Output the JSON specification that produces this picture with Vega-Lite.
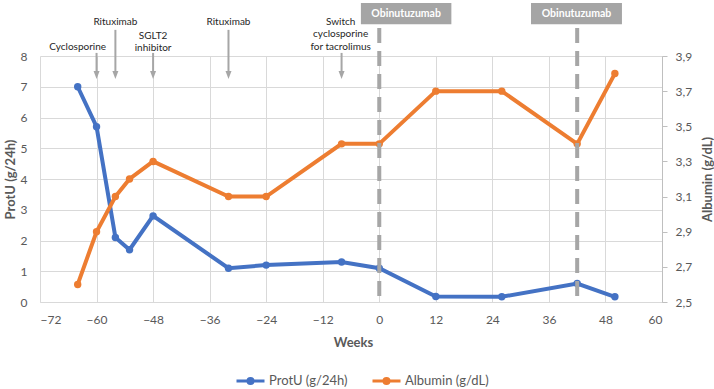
{
  "$schema": "https://vega.github.io/schema/vega-lite/v6.json",
  "width": 622,
  "height": 246,
  "autosize": {"type": "none"},
  "padding": {"left": 40, "top": 56, "right": 52, "bottom": 87},
  "background": "white",
  "config": {
    "view": {"stroke": null},
    "font": "Lato",
    "axis": {"labelColor": "#595959", "titleColor": "#595959", "labelFontSize": 12, "titleFontSize": 13, "titleFontWeight": "bold", "gridColor": "#D9D9D9", "gridWidth": 1}
  },
  "datasets": {
    "main": [
      {"week": -64, "protu": 7.0, "albumin": 2.6},
      {"week": -60, "protu": 5.7, "albumin": 2.9},
      {"week": -56, "protu": 2.1, "albumin": 3.1},
      {"week": -53, "protu": 1.7, "albumin": 3.2},
      {"week": -48, "protu": 2.8, "albumin": 3.3},
      {"week": -32, "protu": 1.1, "albumin": 3.1},
      {"week": -24, "protu": 1.2, "albumin": 3.1},
      {"week": -8, "protu": 1.3, "albumin": 3.4},
      {"week": 0, "protu": 1.1, "albumin": 3.4},
      {"week": 12, "protu": 0.18, "albumin": 3.7},
      {"week": 26, "protu": 0.17, "albumin": 3.7},
      {"week": 42, "protu": 0.6, "albumin": 3.4},
      {"week": 50, "protu": 0.17, "albumin": 3.8}
    ],
    "arrows": [
      {"week": -60, "top": 8.1},
      {"week": -56, "top": 8.85},
      {"week": -48, "top": 8.1},
      {"week": -32, "top": 8.85},
      {"week": -8, "top": 8.1}
    ],
    "labels": [
      {"week": -64, "y": 8.3, "text": "Cyclosporine"},
      {"week": -56, "y": 9.1, "text": "Rituximab"},
      {"week": -48, "y": 8.66, "text": "SGLT2"},
      {"week": -48, "y": 8.27, "text": "inhibitor"},
      {"week": -32, "y": 9.1, "text": "Rituximab"},
      {"week": -8.2, "y": 9.1, "text": "Switch"},
      {"week": -8.2, "y": 8.7, "text": "cyclosporine"},
      {"week": -8.2, "y": 8.29, "text": "for tacrolimus"}
    ],
    "obi": [
      {"x1": -3.9, "x2": 15.3, "y1": 9.03, "y2": 9.72, "xc": 5.7, "yc": 9.38, "text": "Obinutuzumab"},
      {"x1": 32.2, "x2": 51.5, "y1": 9.03, "y2": 9.72, "xc": 41.85, "yc": 9.38, "text": "Obinutuzumab"}
    ],
    "dashes": [
      {"week": 0, "top": 8.91},
      {"week": 42, "top": 8.91}
    ]
  },
  "layer": [
    {
      "data": {"name": "main"},
      "mark": {"type": "line", "strokeWidth": 4, "point": {"filled": true, "size": 55}},
      "encoding": {
        "x": {"field": "week", "type": "quantitative", "scale": {"domain": [-72, 60], "nice": false},
          "axis": {"values": [-72, -60, -48, -36, -24, -12, 0, 12, 24, 36, 48, 60], "title": "Weeks", "ticks": false, "tickSize": 0, "labelPadding": 12, "domainColor": "#D9D9D9", "titleX": 313, "titleY": 40, "titleBaseline": "middle"}},
        "y": {"field": "protu", "type": "quantitative", "scale": {"domain": [0, 8], "nice": false},
          "axis": {"orient": "left", "values": [0, 1, 2, 3, 4, 5, 6, 7, 8], "title": "ProtU (g/24h)", "ticks": false, "tickSize": 0, "labelPadding": 13, "domain": false, "titleX": -30, "titleY": 123, "titleAngle": 270, "titleBaseline": "middle", "titleAlign": "center"}},
        "color": {"datum": "ProtU (g/24h)", "type": "nominal",
          "scale": {"domain": ["ProtU (g/24h)", "Albumin (g/dL)"], "range": ["#4472C4", "#ED7D31"]},
          "legend": {"title": null, "orient": "none", "direction": "horizontal", "legendX": 195, "legendY": 309,
            "symbolType": "M-1,0L1,0M-0.18,0a0.18,0.18 0 1,0 0.36,0a0.18,0.18 0 1,0 -0.36,0",
            "symbolSize": 784, "symbolStrokeWidth": 3, "labelFontSize": 13, "labelColor": "#595959", "labelOffset": 3, "columnPadding": 18,
            "encode": {"symbols": {"update": {"fill": {"scale": "color", "field": "value"}}}}}}
      }
    },
    {
      "data": {"name": "main"},
      "mark": {"type": "line", "strokeWidth": 4, "point": {"filled": true, "size": 55}},
      "encoding": {
        "x": {"field": "week", "type": "quantitative"},
        "y": {"field": "albumin", "type": "quantitative", "scale": {"domain": [2.5, 3.9], "nice": false, "zero": false},
          "axis": {"orient": "right", "values": [2.5, 2.7, 2.9, 3.1, 3.3, 3.5, 3.7, 3.9], "labelExpr": "replace(format(datum.value, '.1f'), '.', ',')", "grid": false, "title": "Albumin (g/dL)", "ticks": true, "tickSize": 5, "tickColor": "#BFBFBF", "domainColor": "#BFBFBF", "labelPadding": 8, "titleX": 45, "titleY": 123, "titleAngle": 270, "titleBaseline": "middle", "titleAlign": "center"}},
        "color": {"datum": "Albumin (g/dL)", "type": "nominal"}
      }
    },
    {
      "data": {"name": "arrows"},
      "mark": {"type": "rule", "color": "#A6A6A6", "strokeWidth": 2},
      "encoding": {
        "x": {"field": "week", "type": "quantitative"},
        "y": {"field": "top", "type": "quantitative", "scale": {"domain": [0, 8], "nice": false}, "axis": null},
        "y2": {"datum": 7.45}
      }
    },
    {
      "data": {"name": "arrows"},
      "mark": {"type": "point", "shape": "M-0.75,-1L0.75,-1L0,1Z", "filled": true, "color": "#A6A6A6", "opacity": 1, "size": 64},
      "encoding": {
        "x": {"field": "week", "type": "quantitative"},
        "y": {"datum": 7.38, "type": "quantitative", "scale": {"domain": [0, 8], "nice": false}, "axis": null}
      }
    },
    {
      "data": {"name": "labels"},
      "mark": {"type": "text", "fontSize": 10, "color": "#262626", "baseline": "middle", "align": "center"},
      "encoding": {
        "x": {"field": "week", "type": "quantitative"},
        "y": {"field": "y", "type": "quantitative", "scale": {"domain": [0, 8], "nice": false}, "axis": null},
        "text": {"field": "text"}
      }
    },
    {
      "data": {"name": "dashes"},
      "mark": {"type": "rule", "color": "#A6A6A6", "strokeWidth": 4, "strokeDash": [15, 8]},
      "encoding": {
        "x": {"field": "week", "type": "quantitative"},
        "y": {"field": "top", "type": "quantitative", "scale": {"domain": [0, 8], "nice": false}, "axis": null},
        "y2": {"datum": 0}
      }
    },
    {
      "data": {"name": "obi"},
      "mark": {"type": "rect", "color": "#A5A5A5"},
      "encoding": {
        "x": {"field": "x1", "type": "quantitative"},
        "x2": {"field": "x2"},
        "y": {"field": "y1", "type": "quantitative", "scale": {"domain": [0, 8], "nice": false}, "axis": null},
        "y2": {"field": "y2"}
      }
    },
    {
      "data": {"name": "obi"},
      "mark": {"type": "text", "fontSize": 10.5, "fontWeight": "bold", "color": "#FFFFFF", "baseline": "middle", "align": "center"},
      "encoding": {
        "x": {"field": "xc", "type": "quantitative"},
        "y": {"field": "yc", "type": "quantitative", "scale": {"domain": [0, 8], "nice": false}, "axis": null},
        "text": {"field": "text"}
      }
    }
  ],
  "resolve": {"scale": {"y": "independent"}}
}
